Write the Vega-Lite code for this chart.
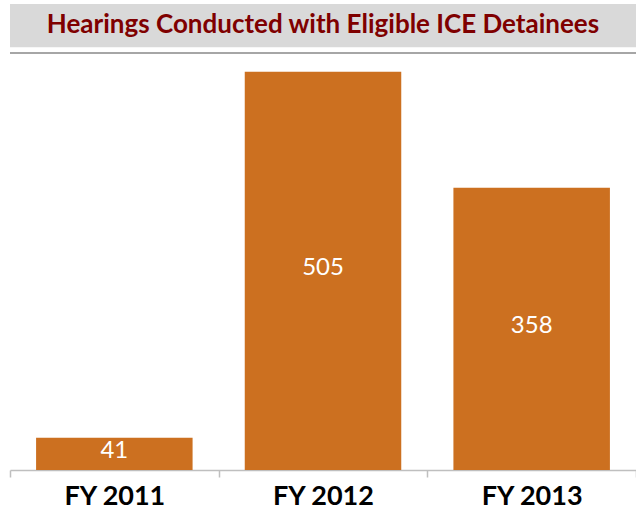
{
  "$schema": "https://vega.github.io/schema/vega-lite/v6.json",
  "width": 626,
  "height": 466,
  "autosize": "none",
  "padding": {"left": 10, "top": 4, "right": 0, "bottom": 42},
  "background": "white",
  "config": {"view": {"stroke": null}, "font": "Lato"},
  "layer": [
    {
      "data": {"values": [{"title": "Hearings Conducted with Eligible ICE Detainees"}]},
      "mark": {"type": "rect", "color": "#D9D9D9"},
      "encoding": {
        "x": {"value": 0},
        "x2": {"value": "width"},
        "y": {"datum": 536, "type": "quantitative"},
        "y2": {"datum": 591}
      }
    },
    {
      "data": {"values": [{"title": "Hearings Conducted with Eligible ICE Detainees"}]},
      "mark": {"type": "rule", "color": "#A6A6A6", "strokeWidth": 2},
      "encoding": {
        "y": {"datum": 529, "type": "quantitative"}
      }
    },
    {
      "data": {"values": [{"title": "Hearings Conducted with Eligible ICE Detainees"}]},
      "mark": {"type": "text", "color": "#7F0000", "fontSize": 26, "fontWeight": "bold", "baseline": "middle", "align": "center"},
      "encoding": {
        "y": {"datum": 564, "type": "quantitative"},
        "text": {"field": "title", "type": "nominal"}
      }
    },
    {
      "data": {"values": [
        {"year": "FY 2011", "hearings": 41},
        {"year": "FY 2012", "hearings": 505},
        {"year": "FY 2013", "hearings": 358}
      ]},
      "layer": [
        {
          "mark": {"type": "bar", "color": "#CC7020", "width": {"band": 0.75}},
          "encoding": {
            "x": {
              "field": "year", "type": "nominal", "sort": null,
              "scale": {"paddingInner": 0, "paddingOuter": 0},
              "axis": {
                "title": null, "labelAngle": 0, "tickBand": "extent",
                "domainColor": "#BFBFBF", "domainWidth": 1.5,
                "tickColor": "#BFBFBF", "tickWidth": 1.5, "tickSize": 7,
                "labelFontSize": 27, "labelFontWeight": "bold", "labelColor": "#000000",
                "labelPadding": 6
              }
            },
            "y": {
              "field": "hearings", "type": "quantitative",
              "scale": {"domain": [0, 591], "nice": false, "zero": true},
              "axis": null
            }
          }
        },
        {
          "mark": {"type": "text", "color": "white", "fontSize": 24, "baseline": "middle", "dy": -3},
          "encoding": {
            "x": {"field": "year", "type": "nominal", "sort": null},
            "y": {"field": "hearings", "type": "quantitative", "stack": "zero", "bandPosition": 0.5},
            "text": {"field": "hearings", "type": "quantitative"}
          }
        }
      ]
    }
  ]
}
